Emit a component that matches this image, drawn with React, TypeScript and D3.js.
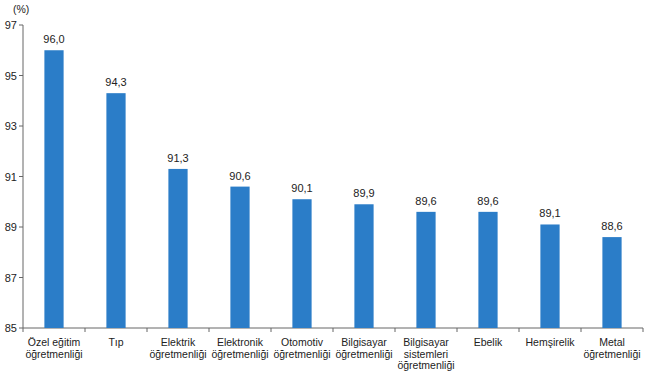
import React from "react";
import * as d3 from "d3";

const categories: string[][] = [
  ["Özel eğitim", "öğretmenliği"],
  ["Tıp"],
  ["Elektrik", "öğretmenliği"],
  ["Elektronik", "öğretmenliği"],
  ["Otomotiv", "öğretmenliği"],
  ["Bilgisayar", "öğretmenliği"],
  ["Bilgisayar", "sistemleri", "öğretmenliği"],
  ["Ebelik"],
  ["Hemşirelik"],
  ["Metal", "öğretmenliği"],
];
const values: number[] = [96.0, 94.3, 91.3, 90.6, 90.1, 89.9, 89.6, 89.6, 89.1, 88.6];
const yTicks: number[] = [85, 87, 89, 91, 93, 95, 97];

export default function App() {
  const W = 650, H = 379;
  const left = 23, right = 643, top = 25, bottom = 328;
  const x = d3.scaleBand<number>().domain(d3.range(values.length)).range([left, right]).paddingInner(0.69).paddingOuter(0.345);
  const xb = d3.scaleBand<number>().domain(d3.range(values.length)).range([left, right]);
  const y = d3.scaleLinear().domain([85, 97]).range([bottom, top]);
  const font = "'Liberation Sans', Arial, sans-serif";
  const fmt = (v: number) => v.toFixed(1).replace(".", ",");
  return (
    <svg width={W} height={H} style={{ position: "absolute", left: 0, top: 0, background: "#fff" }} fontFamily={font}>
      <rect width={W} height={H} fill="#fff" />
      <text x={13} y={13} fontSize={10.5} fill="#222">(%)</text>
      <line x1={left} x2={left} y1={top} y2={bottom} stroke="#666" />
      {yTicks.map((t) => (
        <g key={t}>
          <line x1={left - 4} x2={left} y1={y(t)} y2={y(t)} stroke="#666" />
          <text x={left - 6} y={y(t) + 4} fontSize={11} textAnchor="end" fill="#222">{t}</text>
        </g>
      ))}
      <line x1={left} x2={right} y1={bottom} y2={bottom} stroke="#666" />
      {d3.range(values.length + 1).map((i) => {
        const xx = i < values.length ? (xb(i) as number) : right;
        return <line key={i} x1={xx} x2={xx} y1={bottom} y2={bottom + 4} stroke="#666" />;
      })}
      {values.map((v, i) => (
        <g key={i}>
          <rect x={x(i)} y={y(v)} width={x.bandwidth()} height={bottom - y(v)} fill="#2b7dc8" />
          <text x={(x(i) as number) + x.bandwidth() / 2} y={y(v) - 7} fontSize={11} textAnchor="middle" fill="#222">{fmt(v)}</text>
          {categories[i].map((line, j) => (
            <text key={j} x={(xb(i) as number) + xb.bandwidth() / 2} y={346 + j * 11.5} fontSize={10.5} textAnchor="middle" fill="#222">{line}</text>
          ))}
        </g>
      ))}
    </svg>
  );
}
